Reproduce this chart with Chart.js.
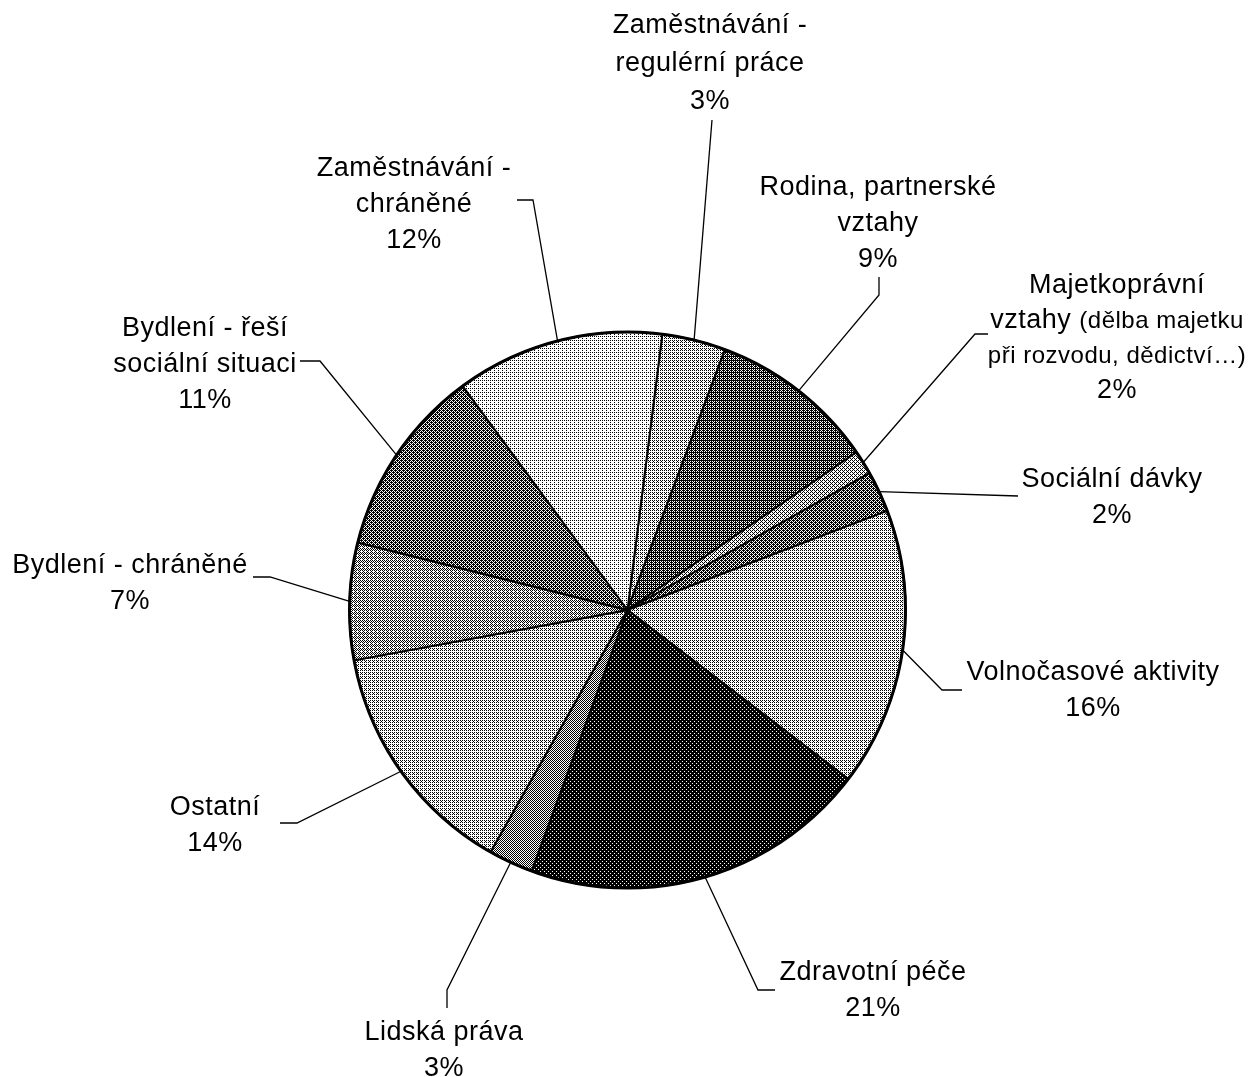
<!DOCTYPE html>
<html>
<head>
<meta charset="utf-8">
<title>Oblasti podpory</title>
<script src="https://cdn.jsdelivr.net/npm/chart.js@4.4.1/dist/chart.umd.min.js"></script>
<style>
  html, body { margin: 0; padding: 0; background: #fff; }
  #wrap { width: 1249px; height: 1077px; }
</style>
</head>
<body>
<div id="wrap"><canvas id="pie" width="1249" height="1077"></canvas></div>
<script>
  // data, clockwise from 12 o'clock
  var categories = [
    'Zaměstnávání - regulérní práce',
    'Rodina, partnerské vztahy',
    'Majetkoprávní vztahy (dělba majetku při rozvodu, dědictví…)',
    'Sociální dávky',
    'Volnočasové aktivity',
    'Zdravotní péče',
    'Lidská práva',
    'Ostatní',
    'Bydlení - chráněné',
    'Bydlení - řeší sociální situaci',
    'Zaměstnávání - chráněné'
  ];
  var shares = [3.7, 9.7, 1.4, 2.4, 16.2, 20.2, 2.6, 13.9, 6.8, 11.0, 12.1];
  var percentLabels = ['3%', '9%', '2%', '2%', '16%', '21%', '3%', '14%', '7%', '11%', '12%'];
  // label text split into lines; a two item line = [normal part, small part]
  var labelLines = [
    ['Zaměstnávání -', 'regulérní práce'],
    ['Rodina, partnerské', 'vztahy'],
    ['Majetkoprávní', ['vztahy ', '(dělba majetku'], ['', 'při rozvodu, dědictví…)']],
    ['Sociální dávky'],
    ['Volnočasové aktivity'],
    ['Zdravotní péče'],
    ['Lidská práva'],
    ['Ostatní'],
    ['Bydlení - chráněné'],
    ['Bydlení - řeší', 'sociální situaci'],
    ['Zaměstnávání -', 'chráněné']
  ];

  // look: share of black in each slice's stipple
  var shades = [0.3, 0.7, 0.35, 0.6, 0.3, 0.85, 0.5, 0.3, 0.42, 0.62, 0.2];
  // where each label sits (centre x, middle of first line) and its leader bends
  var labelLayout = [
    { x: 710, y: 23, gap: 38, leader: [[712, 120]] },
    { x: 878, y: 185, gap: 36, leader: [[879, 295], [879, 277]] },
    { x: 1117, y: 283, gap: 35, leader: [[975, 334], [988, 334]] },
    { x: 1112, y: 477, gap: 36, leader: [[1018, 496]] },
    { x: 1093, y: 670, gap: 36, leader: [[942, 690], [962, 690]] },
    { x: 873, y: 970, gap: 36, leader: [[758, 990], [775, 990]] },
    { x: 444, y: 1030, gap: 36, leader: [[447, 990], [447, 1008]] },
    { x: 215, y: 805, gap: 36, leader: [[297, 823], [280, 823]] },
    { x: 130, y: 563, gap: 36, leader: [[270, 577], [253, 577]] },
    { x: 205, y: 326, gap: 36, leader: [[320, 361], [300, 361]] },
    { x: 414, y: 166, gap: 36, leader: [[533, 200], [517, 200]] }
  ];
  var FONT = '"Liberation Sans", Arial, sans-serif';
  var BIG = 27, SMALL = 24;

  var bayer = [
    [0, 8, 2, 10],
    [12, 4, 14, 6],
    [3, 11, 1, 9],
    [15, 7, 13, 5]
  ];

  function stipple(level) {
    var c = document.createElement('canvas');
    c.width = 4;
    c.height = 4;
    var g = c.getContext('2d');
    g.fillStyle = '#fff';
    g.fillRect(0, 0, 4, 4);
    g.fillStyle = '#000';
    for (var y = 0; y < 4; y++) {
      for (var x = 0; x < 4; x++) {
        if (bayer[y][x] < Math.round(level * 16)) g.fillRect(x, y, 1, 1);
      }
    }
    return g.createPattern(c, 'repeat');
  }

  function drawLine(ctx, line, cx, baseY) {
    if (typeof line === 'string') line = [line, ''];
    ctx.font = BIG + 'px ' + FONT;
    var w1 = line[0] ? ctx.measureText(line[0]).width : 0;
    ctx.font = SMALL + 'px ' + FONT;
    var w2 = line[1] ? ctx.measureText(line[1]).width : 0;
    var x = cx - (w1 + w2) / 2;
    ctx.textAlign = 'left';
    if (line[0]) {
      ctx.font = BIG + 'px ' + FONT;
      ctx.fillText(line[0], x, baseY);
    }
    if (line[1]) {
      ctx.font = SMALL + 'px ' + FONT;
      ctx.fillText(line[1], x + w1, baseY);
    }
  }

  var pieLabels = {
    id: 'pieLabels',
    afterDatasetsDraw: function(chart) {
      var ctx = chart.ctx;
      var arcs = chart.getDatasetMeta(0).data;
      ctx.save();
      ctx.strokeStyle = '#000';
      ctx.fillStyle = '#000';

      var first = arcs[0];
      ctx.beginPath();
      ctx.arc(first.x, first.y, first.outerRadius, 0, Math.PI * 2);
      ctx.lineWidth = 3;
      ctx.stroke();

      ctx.letterSpacing = '0.5px';
      arcs.forEach(function(arc, i) {
        var mid = (arc.startAngle + arc.endAngle) / 2;
        var ex = arc.x + Math.cos(mid) * arc.outerRadius;
        var ey = arc.y + Math.sin(mid) * arc.outerRadius;
        var lay = labelLayout[i];

        ctx.beginPath();
        ctx.moveTo(ex, ey);
        lay.leader.forEach(function(pt) { ctx.lineTo(pt[0], pt[1]); });
        ctx.lineWidth = 1.3;
        ctx.stroke();

        var lines = labelLines[i].concat([percentLabels[i]]);
        lines.forEach(function(line, k) {
          drawLine(ctx, line, lay.x, lay.y + k * lay.gap + BIG * 0.36);
        });
      });
      ctx.restore();
    }
  };

  new Chart(document.getElementById('pie'), {
    type: 'pie',
    data: {
      labels: categories,
      datasets: [{
        data: shares,
        backgroundColor: shades.map(stipple),
        borderColor: '#000',
        borderWidth: 2
      }]
    },
    options: {
      responsive: false,
      animation: false,
      events: [],
      rotation: 7.2,
      layout: { padding: { top: 331, bottom: 188, left: 305, right: 299 } },
      plugins: {
        legend: { display: false },
        tooltip: { enabled: false }
      }
    },
    plugins: [pieLabels]
  });
</script>
</body>
</html>
